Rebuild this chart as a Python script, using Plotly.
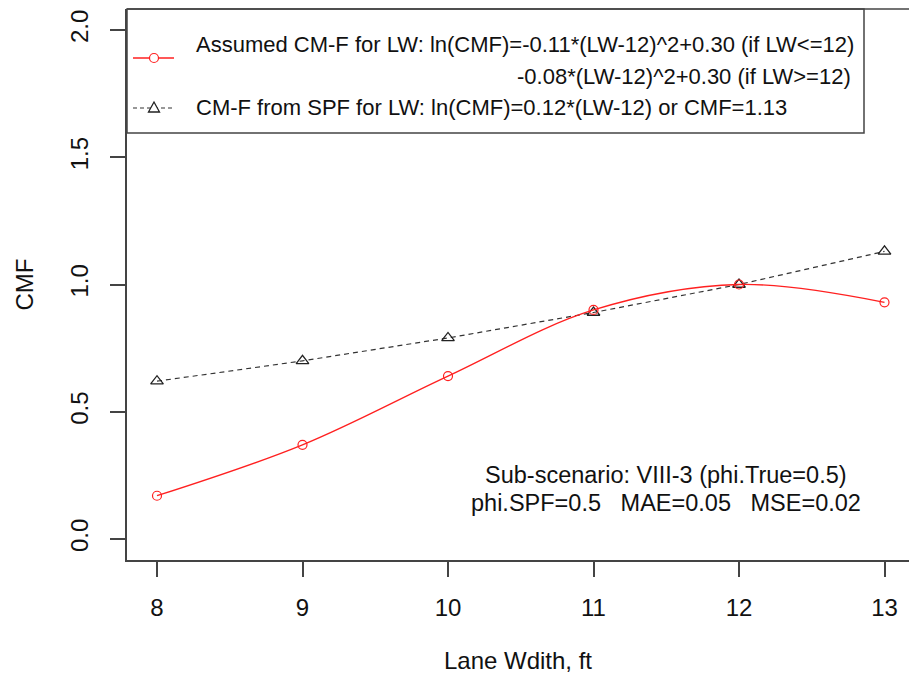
import plotly.graph_objects as go

# ---- data ----
lane_width = [8, 9, 10, 11, 12, 13]
cmf_assumed = [0.17, 0.37, 0.64, 0.90, 1.00, 0.93]
cmf_spf = [0.62, 0.70, 0.79, 0.89, 1.00, 1.13]
x_ticks = [8, 9, 10, 11, 12, 13]
y_ticks = [0.0, 0.5, 1.0, 1.5, 2.0]
y_tick_text = ["0.0", "0.5", "1.0", "1.5", "2.0"]

legend_line1 = "Assumed CM-F for LW: ln(CMF)=-0.11*(LW-12)^2+0.30 (if LW<=12)"
legend_line2 = "-0.08*(LW-12)^2+0.30 (if LW>=12)"
legend_line3 = "CM-F from SPF for LW: ln(CMF)=0.12*(LW-12) or CMF=1.13"
note1 = "Sub-scenario: VIII-3 (phi.True=0.5)"
note2 = "phi.SPF=0.5   MAE=0.05   MSE=0.02"

FONT = "Liberation Sans, Arial, sans-serif"
W, H = 909, 683
L, R, T, B = 127, 0, 9, 123
PW, PH = W - L - R, H - T - B


def px(x):
    return (x - L) / PW


def py(y):
    return (H - B - y) / PH


fig = go.Figure()
fig.add_trace(go.Scatter(
    x=lane_width, y=cmf_spf, mode="lines+markers",
    line=dict(color="#333333", width=1.2, dash="5px,4px"),
    marker=dict(symbol="triangle-up-open", size=11, color="#222222",
                line=dict(width=1.3)),
    showlegend=False, cliponaxis=False))
fig.add_trace(go.Scatter(
    x=lane_width, y=cmf_assumed, mode="lines+markers",
    line=dict(color="#ff2020", width=1.3, shape="spline", smoothing=1.0),
    marker=dict(symbol="circle-open", size=9, color="#ff2020",
                line=dict(width=1.2)),
    showlegend=False, cliponaxis=False))

shapes = []
# top border of the plot box
shapes.append(dict(type="line", xref="paper", yref="paper", x0=0, x1=1, y0=1, y1=1,
                   line=dict(color="#444444", width=1.5)))
# legend box
shapes.append(dict(type="rect", xref="paper", yref="paper",
                   x0=0, x1=px(864), y0=py(133), y1=1,
                   line=dict(color="#444444", width=1.5), fillcolor="white", layer="below"))
# legend samples
shapes.append(dict(type="line", xref="paper", yref="paper", x0=px(133), x1=px(174),
                   y0=py(58), y1=py(58), line=dict(color="#ff2020", width=1.5)))
shapes.append(dict(type="circle", xref="paper", yref="paper", xsizemode="pixel", ysizemode="pixel",
                   xanchor=px(154), yanchor=py(58), x0=-4.5, x1=4.5, y0=-4.5, y1=4.5,
                   line=dict(color="#ff2020", width=1.2), fillcolor="white"))
shapes.append(dict(type="line", xref="paper", yref="paper", x0=px(133), x1=px(174),
                   y0=py(108), y1=py(108), line=dict(color="#333333", width=1.2, dash="4px,3px")))
shapes.append(dict(type="path", xref="paper", yref="paper", xsizemode="pixel", ysizemode="pixel",
                   xanchor=px(154), yanchor=py(108),
                   path="M-5.5,-4 L5.5,-4 L0,6 Z",
                   line=dict(color="#222222", width=1.3), fillcolor="white"))

annotations = [
    dict(xref="paper", yref="paper", x=px(194), y=py(44), xanchor="left", yanchor="middle",
         text=legend_line1, showarrow=False, font=dict(family=FONT, size=22, color="#111111")),
    dict(xref="paper", yref="paper", x=px(853), y=py(77), xanchor="right", yanchor="middle",
         text=legend_line2, showarrow=False, font=dict(family=FONT, size=22, color="#111111")),
    dict(xref="paper", yref="paper", x=px(194), y=py(107), xanchor="left", yanchor="middle",
         text=legend_line3, showarrow=False, font=dict(family=FONT, size=22, color="#111111")),
    dict(x=11.5, y=0.25, xanchor="center", yanchor="middle", text=note1, showarrow=False,
         font=dict(family=FONT, size=23.5, color="#111111")),
    dict(x=11.5, y=0.14, xanchor="center", yanchor="middle", text=note2, showarrow=False,
         font=dict(family=FONT, size=23.5, color="#111111")),
]

fig.update_layout(
    width=W, height=H,
    margin=dict(l=L, r=R, t=T, b=B, pad=0),
    paper_bgcolor="white", plot_bgcolor="white",
    font=dict(family=FONT, size=24, color="#111111"),
    shapes=shapes, annotations=annotations,
    xaxis=dict(range=[8 - 30 / 145.5, 8 + (909 - 157) / 145.5],
               tickvals=x_ticks, ticks="outside", ticklen=15, tickwidth=1.5, tickcolor="#444444",
               showline=True, linecolor="#444444", linewidth=1.5, showgrid=False, zeroline=False,
               tickfont=dict(family=FONT, size=24), ticklabelstandoff=10,
               title=dict(text="Lane Wdith, ft", font=dict(family=FONT, size=24), standoff=33)),
    yaxis=dict(range=[-0.0825, 2.0825],
               tickvals=y_ticks, ticktext=y_tick_text, ticks="outside", ticklen=15, tickwidth=1.5,
               tickcolor="#444444", tickangle=-90,
               showline=True, linecolor="#444444", linewidth=1.5, showgrid=False, zeroline=False,
               tickfont=dict(family=FONT, size=24), ticklabelstandoff=13,
               title=dict(text="CMF", font=dict(family=FONT, size=24), standoff=25)),
)

fig.write_html("out.html")
